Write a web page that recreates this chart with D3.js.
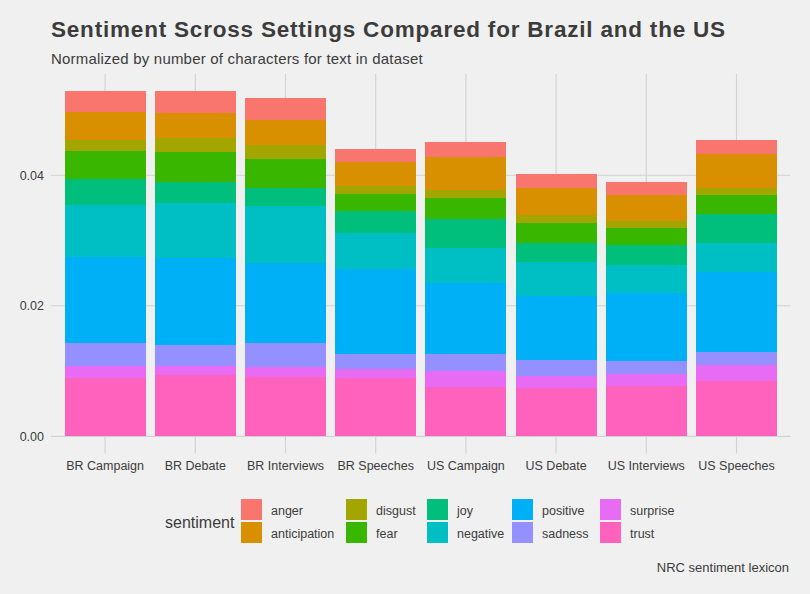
<!DOCTYPE html>
<html>
<head>
<meta charset="utf-8">
<script src="https://cdn.jsdelivr.net/npm/d3@7"></script>
<style>
  body { margin: 0; background: #F0F0F0; }
  svg { display: block; font-family: "Liberation Sans", Arial, sans-serif; }
</style>
</head>
<body>
<div id="chart"></div>
<script>
// categorias del eje x
const categories = ["BR Campaign", "BR Debate", "BR Interviews", "BR Speeches",
                    "US Campaign", "US Debate", "US Interviews", "US Speeches"];

// niveles de sentimiento (orden de la leyenda)
const sentiments = ["anger", "anticipation", "disgust", "fear", "joy",
                    "negative", "positive", "sadness", "surprise", "trust"];
const sentimentColors = ["#F8766D", "#D89000", "#A3A500", "#39B600", "#00BF7D",
                         "#00BFC4", "#00B0F6", "#9590FF", "#E76BF3", "#FF62BC"];

// valores por sentimiento, uno por categoria
const anger        = [0.00316, 0.00337, 0.00338, 0.00194, 0.00230, 0.00215, 0.00199, 0.00215];
const anticipation = [0.00435, 0.00378, 0.00383, 0.00373, 0.00505, 0.00414, 0.00398, 0.00521];
const disgust      = [0.00168, 0.00220, 0.00214, 0.00123, 0.00123, 0.00122, 0.00108, 0.00107];
const fear         = [0.00430, 0.00455, 0.00440, 0.00265, 0.00327, 0.00312, 0.00260, 0.00286];
const joy          = [0.00398, 0.00327, 0.00275, 0.00332, 0.00434, 0.00286, 0.00307, 0.00450];
const negative     = [0.00802, 0.00837, 0.00879, 0.00552, 0.00547, 0.00516, 0.00429, 0.00439];
const positive     = [0.01313, 0.01339, 0.01226, 0.01303, 0.01083, 0.00986, 0.01042, 0.01231];
const sadness      = [0.00348, 0.00316, 0.00368, 0.00235, 0.00265, 0.00240, 0.00194, 0.00199];
const surprise     = [0.00184, 0.00144, 0.00153, 0.00133, 0.00240, 0.00189, 0.00184, 0.00245];
const trust        = [0.00898, 0.00939, 0.00909, 0.00893, 0.00756, 0.00740, 0.00776, 0.00848];

const yTicks = [0, 0.02, 0.04];

const seriesByName = { anger, anticipation, disgust, fear, joy, negative, positive, sadness, surprise, trust };

// tabla para d3.stack
const table = categories.map((c, i) => {
    const row = { setting: c };
    sentiments.forEach(s => { row[s] = seriesByName[s][i]; });
    return row;
});

const width = 810, height = 594;
const panel = { left: 51, right: 790.6, top: 73.7, bottom: 453.6 };
const textColor = "#3C3C3C";
const gridColor = "#D2D2D2";

const svg = d3.select("#chart").append("svg")
    .attr("width", width)
    .attr("height", height);

svg.append("rect").attr("width", width).attr("height", height).attr("fill", "#F0F0F0");

// escalas
const x = d3.scaleBand()
    .domain(categories)
    .range([panel.left, panel.right])
    .paddingInner(0.1)
    .paddingOuter(0.15);

// trust abajo, anger arriba
const stack = d3.stack().keys(sentiments.slice().reverse());
const layers = stack(table);

const maxTotal = d3.max(layers[layers.length - 1], d => d[1]);
const pad = maxTotal * 0.05;
const y = d3.scaleLinear()
    .domain([-pad, maxTotal + pad])
    .range([panel.bottom, panel.top]);

const color = d3.scaleOrdinal().domain(sentiments).range(sentimentColors);

// grilla
const grid = svg.append("g");
grid.selectAll(".hgrid")
    .data(yTicks)
    .enter().append("line")
    .attr("x1", panel.left).attr("x2", panel.right)
    .attr("y1", d => y(d)).attr("y2", d => y(d))
    .attr("stroke", gridColor).attr("stroke-width", 1.1);

grid.selectAll(".vgrid")
    .data(categories)
    .enter().append("line")
    .attr("x1", d => x(d) + x.bandwidth() / 2).attr("x2", d => x(d) + x.bandwidth() / 2)
    .attr("y1", panel.top).attr("y2", panel.bottom)
    .attr("stroke", gridColor).attr("stroke-width", 1.1);

// barras apiladas
svg.append("g").selectAll("g")
    .data(layers)
    .enter().append("g")
    .attr("fill", d => color(d.key))
    .selectAll("rect")
    .data(d => d)
    .enter().append("rect")
    .attr("x", d => x(d.data.setting))
    .attr("width", x.bandwidth())
    .attr("y", d => y(d[1]))
    .attr("height", d => y(d[0]) - y(d[1]))
    .attr("shape-rendering", "crispEdges");

// ejes
const yAxis = svg.append("g")
    .attr("transform", `translate(${panel.left},0)`)
    .call(d3.axisLeft(y).tickValues(yTicks).tickFormat(d3.format(".2f")).tickSize(0).tickPadding(7));
yAxis.select(".domain").remove();
yAxis.selectAll("text").attr("fill", textColor).attr("font-size", 12.5).attr("font-family", "Liberation Sans, Arial, sans-serif");

const xAxis = svg.append("g")
    .attr("transform", `translate(0,${panel.bottom})`)
    .call(d3.axisBottom(x).tickSize(0).tickPadding(8));
xAxis.select(".domain").remove();
xAxis.selectAll("text").attr("fill", textColor).attr("font-size", 12.5).attr("font-family", "Liberation Sans, Arial, sans-serif");

// titulos
svg.append("text")
    .attr("x", 51).attr("y", 37)
    .attr("font-size", 22.5).attr("font-weight", "bold").attr("fill", textColor)
    .attr("letter-spacing", 0.8)
    .text("Sentiment Scross Settings Compared for Brazil and the US");

svg.append("text")
    .attr("x", 51).attr("y", 64)
    .attr("font-size", 15).attr("fill", textColor)
    .attr("letter-spacing", 0.2)
    .text("Normalized by number of characters for text in dataset");

svg.append("text")
    .attr("x", 789).attr("y", 572)
    .attr("text-anchor", "end")
    .attr("font-size", 13).attr("fill", textColor)
    .text("NRC sentiment lexicon");

// leyenda
const legend = svg.append("g");
legend.append("text")
    .attr("x", 165).attr("y", 528)
    .attr("font-size", 16).attr("fill", textColor)
    .text("sentiment");

const colX = [241, 346, 427, 512, 600];
const rowY = [499, 522];
const keySize = 21;

const items = legend.selectAll(".item")
    .data(sentiments)
    .enter().append("g")
    .attr("transform", (d, i) => `translate(${colX[Math.floor(i / 2)]},${rowY[i % 2]})`);

items.append("rect")
    .attr("width", keySize).attr("height", keySize)
    .attr("fill", d => color(d));

items.append("text")
    .attr("x", keySize + 9).attr("y", keySize / 2 + 1)
    .attr("dy", "0.35em")
    .attr("font-size", 12.5).attr("fill", textColor)
    .text(d => d);
</script>
</body>
</html>
